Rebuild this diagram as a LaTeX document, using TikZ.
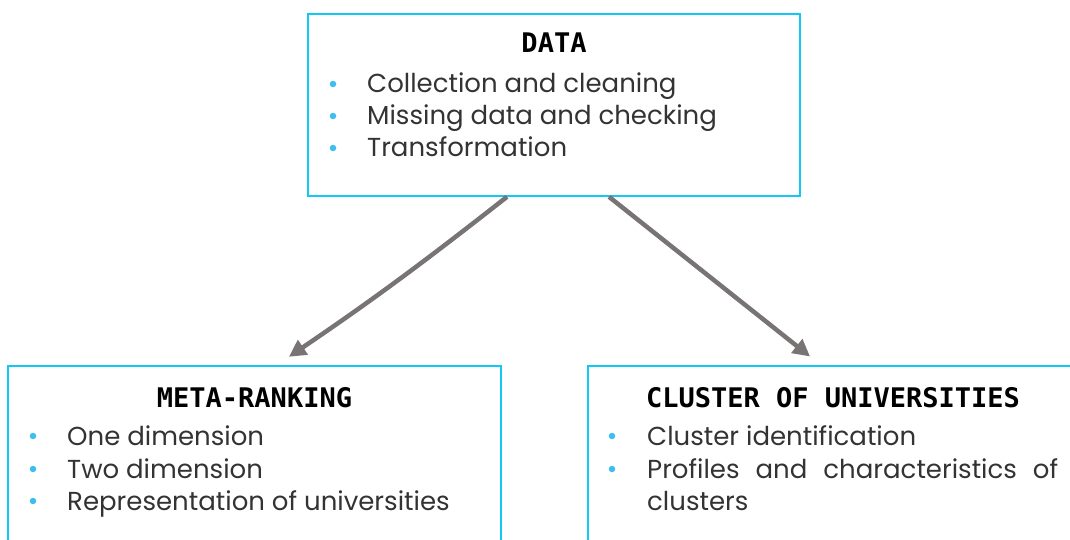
\documentclass[tikz,border=0pt]{standalone}
\usepackage{fontspec}
\setmainfont{Poppins}
\newfontfamily\headfont{DejaVu Sans Mono}
\usepackage{tikz}
\usetikzlibrary{positioning,arrows.meta}
\definecolor{boxcyan}{RGB}{18,200,245}
\definecolor{dotblue}{RGB}{60,190,240}
\definecolor{arrowgray}{RGB}{120,116,116}

\begin{document}
\begin{tikzpicture}[x=1pt,y=-1pt,
			box/.style={draw=boxcyan, line width=1.6pt, rectangle, inner sep=0pt},
			head/.style={font=\headfont\bfseries\fontsize{27}{32}\selectfont, anchor=base, inner sep=0pt},
			item/.style={font=\fontsize{26}{32}\selectfont, text=black!80, anchor=base west, inner sep=0pt},
			dot/.style={circle, fill=dotblue, minimum size=6.5pt, inner sep=0pt},
			link/.style={draw=arrowgray, line width=4.5pt, -{Triangle[length=17pt,width=17pt]}},
		]
		\useasboundingbox (0,0) rectangle (1070,540);

			%Nodes
			\node[box, minimum width=492pt, minimum height=182pt]	(data)	at (554,105)	{};
			\node[box, minimum width=493pt, minimum height=194pt]	(meta)	at (254.5,463)	{};
			\node[box, minimum width=490pt, minimum height=194pt]	(clus)	at (833,463)	{};

			\node[head]	(datahead)	at (554,53)		{DATA};
			\node[head]	(metahead)	at (254.5,407)	{META-RANKING};
			\node[head]	(clushead)	at (833,407)	{CLUSTER OF UNIVERSITIES};

			\node[item]	(d1)	at (367,93)		{Collection and cleaning};
			\node[item]	(d2)	at (367,125)	{Missing data and checking};
			\node[item]	(d3)	at (367,157)	{Transformation};
			\foreach \n in {d1,d2,d3}
				\node[dot] at ([yshift=9pt]\n.base west -| 333,0) {};

			\node[item]	(m1)	at (67,445)		{One dimension};
			\node[item]	(m2)	at (67,478)		{Two dimension};
			\node[item]	(m3)	at (67,510)		{Representation of universities};
			\foreach \n in {m1,m2,m3}
				\node[dot] at ([yshift=9pt]\n.base west -| 33,0) {};

			\node[item]	(c1)	at (647,445)	{Cluster identification};
			\node[item]	(c2)	at (647,478)	{\makebox[411pt][s]{Profiles and characteristics of}};
			\node[item]	(c3)	at (647,510)	{clusters};
			\foreach \n in {c1,c2}
				\node[dot] at ([yshift=9pt]\n.base west -| 612,0) {};

			%Lines
			\draw[link, bend left=2, shorten >=15pt]	([xshift=-47pt]data.south) to ([xshift=22pt]meta.north);
			\draw[link, shorten >=14pt]	([xshift=55pt]data.south) -- ([xshift=-12pt]clus.north);

		\end{tikzpicture}
\end{document}
